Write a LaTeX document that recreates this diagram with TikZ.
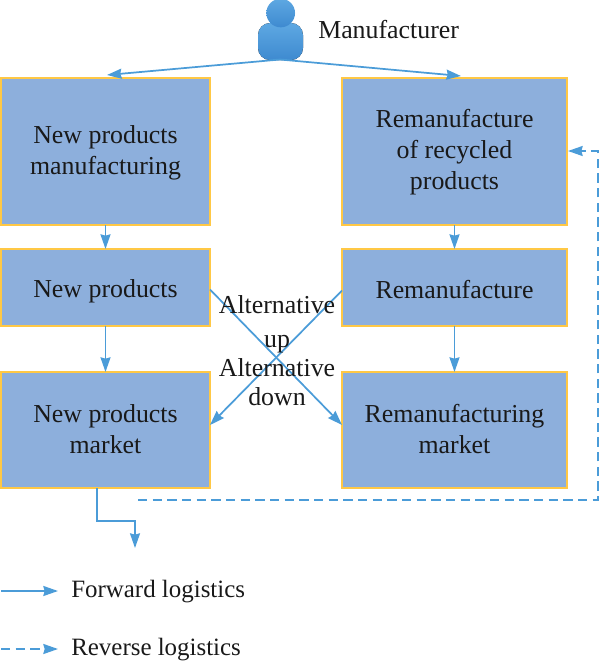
\documentclass[tikz,border=0pt]{standalone}
\usepackage{fontspec}
\setmainfont{Liberation Serif}
\usetikzlibrary{arrows.meta}
\definecolor{boxfill}{HTML}{8DAFDC}
\definecolor{boxedge}{HTML}{FFC845}
\definecolor{flow}{HTML}{4B9CD8}
\definecolor{ptop}{HTML}{5EA8E2}
\definecolor{pbot}{HTML}{3E8AD0}
\tikzset{
  x=0.75pt,y=-0.75pt,
  stagebox/.style={draw=boxedge,fill=boxfill,line width=1.1pt,inner sep=0pt,outer sep=0pt,align=center,
    font=\fontsize{19.4}{23.25}\selectfont,text=black!90},
  flowline/.style={draw=flow,line width=1.3pt,-{Stealth[length=11pt,width=7.5pt,inset=1pt]}},
  backline/.style={flowline,dash pattern=on 7pt off 4pt},
  plain/.style={font=\fontsize{19.4}{23.25}\selectfont,text=black!90,inner sep=0pt},
  legendtext/.style={plain,font=\fontsize{18.7}{23.25}\selectfont,anchor=west},
  persona/.style={draw=none,top color=ptop,bottom color=pbot}
}
\newcommand{\stage}[6]{\node[stagebox,minimum width=#4*0.75pt,minimum height=#5*0.75pt] (#1) at (#2,#3) {#6};}
\newcommand{\shifted}[2]{\raisebox{#1}[\height][\depth]{#2}}
\begin{document}
\begin{tikzpicture}
\useasboundingbox (0,0) rectangle (600,665);
\stage{a}{105.5}{151.5}{209}{147}{\shifted{-0.75pt}{New products}\\\shifted{-0.75pt}{manufacturing}}
\stage{b}{454.5}{151.5}{225}{147}{\shifted{-0.75pt}{Remanufacture}\\\shifted{-0.75pt}{of recycled}\\\shifted{-0.75pt}{products}}
\stage{c}{105.5}{287.5}{209}{77}{\shifted{-3pt}{New products}}
\stage{d}{454.5}{287.5}{225}{77}{\shifted{-1.4pt}{Remanufacture}}
\stage{e}{105.5}{430}{209}{116}{\shifted{0.75pt}{New products}\\\shifted{0.75pt}{market}}
\stage{f}{454.5}{430}{225}{116}{\shifted{0.75pt}{Remanufacturing}\\\shifted{0.75pt}{market}}
% person icon
\fill[persona,rounded corners=9pt] (258,23) rectangle (303,60);
\node[persona,circle,minimum size=21.5pt,inner sep=0pt] (head) at (280.7,13) {};
\coordinate (apex) at (280,59.5);
\node[plain,anchor=west] (maker) at (318,30) {Manufacturer};
% connectors
\coordinate (aTop) at (107,75);
\coordinate (bTop) at (461,76);
\draw[flowline] (apex) -- (aTop);
\draw[flowline] (apex) -- (bTop);
\draw[flowline] (a.south) -- (c.north);
\draw[flowline] (b.south) -- (d.north);
\draw[flowline] (c.south) -- (e.north);
\draw[flowline] (d.south) -- (f.north);
\draw[flowline] (c.east) ++(0,2) -- ([yshift=3.75pt]f.west);
\draw[flowline] (d.west) ++(0,3) -- ([yshift=3.75pt]e.east);
\coordinate (outA) at (97,488);
\coordinate (outB) at (135,548);
\draw[flowline] (outA) -- (97,521) -| (outB);
\coordinate (retA) at (138,500);
\coordinate (retB) at (568,151);
\draw[backline] (retA) -- (598,500) |- (retB);
% labels over the crossing
\node[plain,align=center] (up) at (277,324) {Alternative\\[2pt]up};
\node[plain,align=center] (down) at (277,382) {Alternative\\[-1.5pt]down};
% legend
\coordinate (l1a) at (1,591); \coordinate (l1b) at (58,591);
\coordinate (l2a) at (1,649); \coordinate (l2b) at (58,649);
\draw[flowline] (l1a) -- (l1b);
\draw[backline] (l2a) -- (l2b);
\node[legendtext] (fw) at (71,592) {Forward logistics};
\node[legendtext] (rv) at (71,650) {Reverse logistics};
\end{tikzpicture}
\end{document}
